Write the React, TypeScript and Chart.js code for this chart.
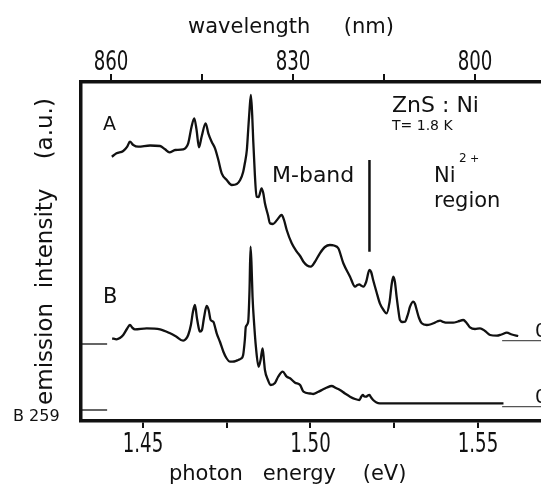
import React, { useEffect, useRef } from "react";
import { Chart, registerables } from "chart.js";

Chart.register(...registerables);

// photon energy (eV) and emission intensity (a.u., relative to each spectrum's zero)
const energyA = [
  1.4407, 1.4421, 1.4441, 1.4453, 1.4461, 1.4471, 1.4486, 1.4521, 1.4551, 1.4566,
  1.4579, 1.4596, 1.462, 1.4635, 1.4645, 1.4653, 1.466, 1.4667, 1.4675, 1.4687,
  1.4695, 1.4705, 1.4715, 1.4725, 1.4735, 1.475, 1.4765, 1.478, 1.479, 1.4799,
  1.4804, 1.481, 1.4814, 1.4818, 1.4822, 1.4826, 1.4829, 1.4834, 1.4839, 1.4845,
  1.4854, 1.4859, 1.4864, 1.4873, 1.4879, 1.4888, 1.49, 1.4914, 1.4921, 1.4929,
  1.4944, 1.4959, 1.4969, 1.4979, 1.499, 1.5001, 1.5013, 1.5028, 1.5043, 1.5058,
  1.507, 1.5083, 1.5098, 1.5118, 1.5133, 1.514, 1.5146, 1.5151, 1.5158, 1.5166,
  1.5176, 1.5181, 1.5187, 1.5197, 1.5207, 1.5218, 1.5227, 1.5236, 1.5242, 1.5247,
  1.5252, 1.5257, 1.5263, 1.5267, 1.5275, 1.5282, 1.5291, 1.5297, 1.5307, 1.5312,
  1.5317, 1.5324, 1.5332, 1.5347, 1.5357, 1.5367, 1.5378, 1.5387, 1.5397, 1.5407,
  1.5426, 1.544, 1.5456, 1.5466, 1.5476, 1.5491, 1.5506, 1.5521, 1.5536, 1.5556,
  1.557, 1.5586, 1.5601, 1.562,
];
const intensityA = [
  185.7, 189.1, 191.4, 195.7, 200.7, 197.4, 195.7, 196.9, 196.4, 193.1,
  190.1, 192.4, 193.1, 199.1, 215.7, 224.1, 212.4, 195.1, 205.7, 219.1,
  209.1, 200.7, 194.1, 182.4, 169.1, 162.4, 157.4, 158.4, 162.4, 170.4,
  179.1, 192.4, 212.4, 232.4, 247.4, 227.4, 202.4, 167.4, 145.7, 145.4,
  154.1, 149.4, 139.1, 127.4, 119.1, 118.4, 122.4, 127.4, 122.4, 112.4,
  99.1, 90.7, 86.4, 80.7, 76.9, 75.7, 80.4, 89.1, 95.4, 97.4,
  96.9, 94.1, 79.1, 65.7, 55.7, 57.4, 58.1, 56.9, 55.7, 60.4,
  72.4, 70.4, 62.4, 50.4, 39.1, 32.4, 29.1, 40.4, 57.4, 65.7,
  60.4, 45.7, 30.4, 22.4, 20.4, 20.7, 28.4, 35.7, 40.7, 38.4,
  32.4, 24.4, 19.1, 17.4, 17.9, 19.1, 20.9, 21.7, 20.4, 19.7,
  19.7, 20.9, 22.4, 19.4, 15.1, 13.4, 14.1, 11.4, 7.4, 6.7,
  7.9, 9.7, 7.9, 6.4,
];
const energyB = [
  1.4408, 1.4421, 1.4431, 1.4441, 1.4452, 1.4461, 1.4469, 1.4476, 1.4511, 1.4551,
  1.4581, 1.4599, 1.462, 1.4628, 1.4635, 1.4643, 1.4649, 1.4655, 1.4661, 1.4667,
  1.467, 1.4676, 1.4682, 1.469, 1.4696, 1.4702, 1.471, 1.4715, 1.472, 1.473,
  1.474, 1.4749, 1.476, 1.4772, 1.4784, 1.4793, 1.4799, 1.4804, 1.4807, 1.4814,
  1.4818, 1.4821, 1.4824, 1.4827, 1.4832, 1.4837, 1.4845, 1.4851, 1.4857, 1.4861,
  1.4864, 1.4873, 1.4881, 1.4894, 1.4903, 1.4917, 1.4929, 1.4939, 1.4954, 1.4969,
  1.4979, 1.4999, 1.5008, 1.5022, 1.5038, 1.5049, 1.5063, 1.5076, 1.5088, 1.5103,
  1.5118, 1.5133, 1.5146, 1.5151, 1.5156, 1.5161, 1.5166, 1.5171, 1.5176, 1.5181,
  1.5187, 1.5197, 1.5207, 1.5327, 1.5446, 1.5576,
];
const intensityB = [
  70.2, 69.2, 70.5, 73.5, 79.5, 83.5, 80.5, 79.2, 80.2, 79.2,
  75.2, 72.0, 67.8, 69.5, 73.5, 83.5, 96.5, 103.5, 90.5, 79.5,
  76.8, 78.5, 90.5, 102.5, 98.5, 88.5, 86.8, 81.5, 75.2, 66.5,
  56.8, 50.5, 46.8, 47.0, 48.5, 50.0, 53.5, 68.5, 81.8, 86.8,
  118.5, 161.8, 143.5, 111.8, 83.5, 61.8, 41.8, 48.5, 60.2, 48.5,
  38.5, 28.5, 23.5, 25.5, 31.5, 36.8, 31.8, 30.2, 25.8, 23.5,
  16.8, 15.0, 14.5, 16.5, 19.2, 21.0, 22.5, 20.5, 18.5, 15.0,
  11.8, 9.5, 8.5, 11.5, 13.5, 12.0, 11.8, 13.0, 13.5, 11.0,
  8.5, 6.0, 5.2, 5.1, 5.2, 5.2,
];
// vertical offsets of the two traces on the common intensity axis
const offsetA = 78.6;
const offsetB = 12.5;

// axis ticks
const energyTicks = [1.45, 1.475, 1.5, 1.525, 1.55];
const energyTickLabels = ["1.45", "", "1.50", "", "1.55"];
const wavelengthTicks = [860, 845, 830, 815, 800];
const wavelengthTickLabels = ["860", "", "830", "", "800"];

// M-band / Ni2+ region separator
const markerEnergy = [1.5176, 1.5176];
const markerLevels = [261, 169.3];

// zero-level marks (A, B) at the left and right edges
const zeroMarkLeftX = [1.4315, 1.4393];
const zeroMarkRightX = [1.5572, 1.5688];
const zeroLevelsLeft = [77.0, 11.0];
const zeroLevelsRight = [80.3, 14.3];

const INK = "#111111";
const SANS = "'DejaVu Sans', sans-serif";

const textPlugin = {
  id: "figureText",
  afterDraw(chart: any) {
    const ctx = chart.ctx as CanvasRenderingContext2D;
    ctx.save();
    ctx.fillStyle = INK;
    ctx.textAlign = "left";
    ctx.textBaseline = "alphabetic";
    const put = (t: string, x: number, y: number, size: number) => {
      ctx.font = `${size}px ${SANS}`;
      ctx.fillText(t, x, y);
    };
    put("A", 103, 130, 19);
    put("B", 103, 303, 21);
    put("M-band", 272, 181.5, 22);
    put("ZnS : Ni", 392, 111.5, 22);
    put("T= 1.8 K", 392, 130, 14);
    put("Ni", 434, 181.5, 21);
    put("2", 459, 162, 12);
    put("+", 470, 162, 11);
    put("region", 434, 206.5, 21);
    put("0", 535, 337, 19);
    put("0", 535, 403, 19);
    put("B 259", 13, 421, 16);

    // condensed tick labels, placed with the scales' own pixel mapping
    const drawTickLabels = (scale: any, baseline: number) => {
      ctx.font = `26px ${SANS}`;
      ctx.textAlign = "center";
      for (const t of scale.ticks) {
        const label = t.label;
        if (!label) continue;
        const px = scale.getPixelForValue(t.value);
        ctx.save();
        ctx.translate(px, baseline);
        ctx.scale(0.7, 1);
        ctx.fillText(String(label), 0, 0);
        ctx.restore();
      }
    };
    const sx = chart.scales.x;
    const sx2 = chart.scales.x2;
    drawTickLabels(sx, sx.top + 31);
    drawTickLabels(sx2, sx2.bottom - 12.5);
    ctx.restore();
  },
};

function seg(xs: number[], ys: number[]) {
  return xs.map((x, i) => ({ x, y: ys[i] }));
}

export default function App() {
  const ref = useRef<HTMLCanvasElement | null>(null);

  useEffect(() => {
    if (!ref.current) return;
    const lineStyle = {
      borderColor: INK,
      pointRadius: 0,
      fill: false,
    };
    const datasets: any[] = [
      {
        ...lineStyle,
        label: "A",
        data: energyA.map((e, i) => ({ x: e, y: intensityA[i] + offsetA })),
        borderWidth: 2.3,
        cubicInterpolationMode: "monotone",
      },
      {
        ...lineStyle,
        label: "B",
        data: energyB.map((e, i) => ({ x: e, y: intensityB[i] + offsetB })),
        borderWidth: 2.3,
        cubicInterpolationMode: "monotone",
      },
      { ...lineStyle, label: "separator", data: seg(markerEnergy, markerLevels), borderWidth: 2.5 },
      { ...lineStyle, label: "zeroAL", data: seg(zeroMarkLeftX, [zeroLevelsLeft[0], zeroLevelsLeft[0]]), borderWidth: 1.3 },
      { ...lineStyle, label: "zeroBL", data: seg(zeroMarkLeftX, [zeroLevelsLeft[1], zeroLevelsLeft[1]]), borderWidth: 1.3 },
      { ...lineStyle, label: "zeroAR", data: seg(zeroMarkRightX, [zeroLevelsRight[0], zeroLevelsRight[0]]), borderWidth: 1.3, borderColor: "#555" },
      { ...lineStyle, label: "zeroBR", data: seg(zeroMarkRightX, [zeroLevelsRight[1], zeroLevelsRight[1]]), borderWidth: 1.3, borderColor: "#555" },
    ];

    const chart = new Chart(ref.current, {
      type: "line",
      data: { datasets },
      plugins: [textPlugin],
      options: {
        animation: false,
        responsive: false,
        devicePixelRatio: 1,
        layout: { padding: { left: 32.2, top: 15.1, right: 0, bottom: 0.7 } },
        plugins: { legend: { display: false }, tooltip: { enabled: false } },
        scales: {
          x: {
            type: "linear",
            position: "bottom",
            min: 1.4315,
            max: 1.5688,
            afterBuildTicks: (scale: any) => {
              scale.ticks = energyTicks.map((v) => ({ value: v }));
            },
            ticks: {
              autoSkip: false,
              maxRotation: 0,
              padding: 3,
              color: "rgba(0,0,0,0)",
              font: { family: SANS, size: 25, lineHeight: 1 },
              callback: (_v: any, i: number) => energyTickLabels[i],
            },
            grid: { display: true, drawOnChartArea: false, drawTicks: true, tickLength: 7, color: INK, lineWidth: 2 },
            border: { display: true, width: 3.5, color: INK },
            title: {
              display: true,
              text: "photon   energy    (eV)       ",
              color: INK,
              font: { family: SANS, size: 21, lineHeight: 1.2 },
              padding: { top: 3.1, bottom: 0 },
            },
          },
          x2: {
            type: "linear",
            axis: "x",
            position: "top",
            reverse: true,
            min: 789.12,
            max: 864.95,
            afterBuildTicks: (scale: any) => {
              scale.ticks = wavelengthTicks.map((v) => ({ value: v }));
            },
            ticks: {
              autoSkip: false,
              maxRotation: 0,
              padding: 1,
              color: "rgba(0,0,0,0)",
              font: { family: SANS, size: 25, lineHeight: 1 },
              callback: (_v: any, i: number) => wavelengthTickLabels[i],
            },
            grid: { display: true, drawOnChartArea: false, drawTicks: true, tickLength: 8, color: INK, lineWidth: 2 },
            border: { display: true, width: 3.5, color: INK },
            title: {
              display: true,
              text: "wavelength     (nm)      ",
              color: INK,
              font: { family: SANS, size: 21, lineHeight: 1.2 },
              padding: { top: 0, bottom: 6.7 },
            },
          },
          y: {
            type: "linear",
            position: "left",
            min: 0,
            max: 339,
            ticks: { display: false },
            grid: { display: false, drawTicks: false, tickLength: 0 },
            border: { display: true, width: 3.5, color: INK },
            title: {
              display: true,
              text: "emission  intensity    (a.u.)",
              color: INK,
              font: { family: SANS, size: 23, lineHeight: 1.2 },
              padding: { top: 0, bottom: 21.2 },
            },
          },
        },
      } as any,
    });
    return () => chart.destroy();
  }, []);

  return (
    <div style={{ position: "absolute", left: 0, top: 0, width: 541, height: 488, overflow: "hidden", background: "#fff" }}>
      <canvas ref={ref} width={541} height={488} style={{ width: 541, height: 488, display: "block" }} />
    </div>
  );
}
